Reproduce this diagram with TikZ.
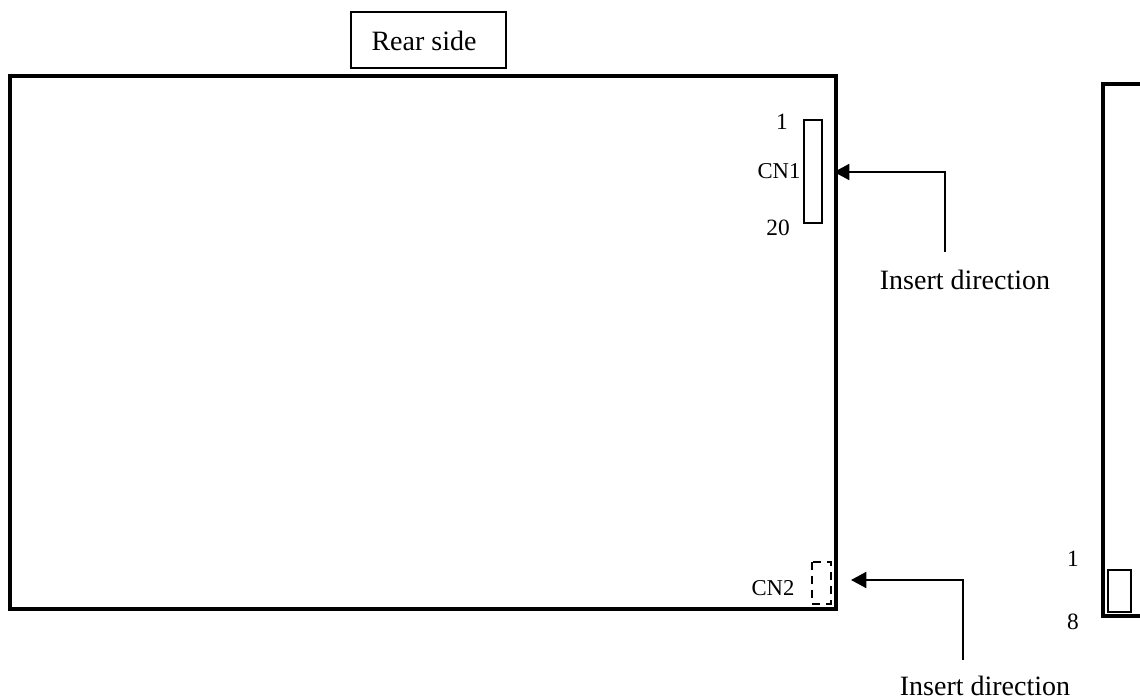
\documentclass[tikz,border=0pt]{standalone}
\usepackage{fontspec}
\setmainfont{Liberation Serif}
\usetikzlibrary{arrows.meta}
\tikzset{
  x=0.75pt,y=-0.75pt,
  board/.style={draw=black,line width=3pt,fill=none},
  box/.style={draw=black,line width=1.5pt,fill=none},
  dashbox/.style={draw=black,line width=1.5pt,dash pattern=on 6pt off 4.5pt,fill=none},
  conn/.style={draw=black,line width=1.5pt},
  tipped/.style={conn,-{Triangle[length=11.5pt,width=12pt]}},
  big/.style={inner sep=0pt,font=\fontsize{21pt}{25pt}\selectfont},
  mid/.style={inner sep=0pt,font=\fontsize{17.5pt}{21pt}\selectfont},
  small/.style={inner sep=0pt,font=\fontsize{17pt}{20pt}\selectfont},
}
\begin{document}
\begin{tikzpicture}
\useasboundingbox (0,0) rectangle (1140,700);
\path[fill=white] (0,0) rectangle (1140,700);
% boards
\draw[board] (9.5,76) rectangle (835.5,609);
\draw[board] (1140,84) -- (1103,84) -- (1103,616) -- (1140,616);
% title
\draw[box] (351,12) rectangle (505.5,67.5);
\node[big] (rear) at (424,41) {Rear side};
% connectors
\draw[box] (803.5,120) rectangle (822,223);
\draw[dashbox] (811.7,562) rectangle (830.7,603.5);
\draw[box] (1107.5,569.5) rectangle (1131,611.5);
% labels
\node[mid] (p1) at (782,122) {1};
\node[small] (cn1) at (779,171) {CN1};
\node[mid] (p20) at (778,228) {20};
\node[small] (cn2) at (773,588) {CN2};
\node[mid] (r1) at (1073,559) {1};
\node[mid] (r8) at (1073,622) {8};
\node[big] (ins1) at (965,280) {Insert direction};
\node[big] (ins2) at (985,686) {Insert direction};
% arrows
\coordinate (a1s) at (944.5,252);
\coordinate (a1c) at (944.5,172);
\coordinate (a1t) at (834,172);
\coordinate (a2s) at (962.7,660);
\coordinate (a2c) at (962.7,580);
\coordinate (a2t) at (851,580);
\draw[tipped] (a1s) -- (a1c) -- (a1t);
\draw[tipped] (a2s) -- (a2c) -- (a2t);
\end{tikzpicture}
\end{document}
